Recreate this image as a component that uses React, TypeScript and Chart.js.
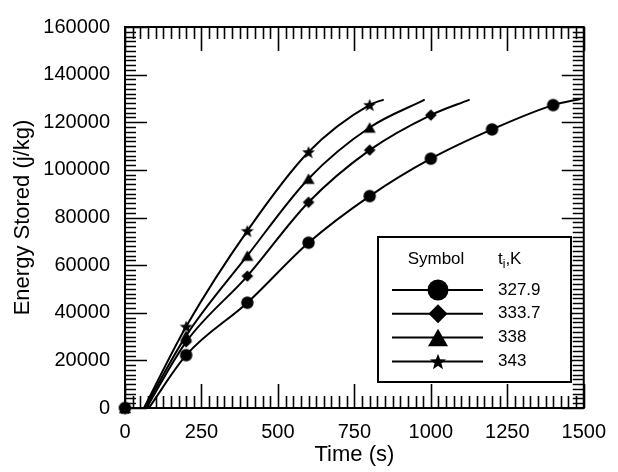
import React, { useEffect, useRef } from 'react';
import { Chart, registerables } from 'chart.js';

Chart.register(...registerables);

// ---- axis ticks ----
const xTicks = [0, 250, 500, 750, 1000, 1250, 1500];
const yTicks = [0, 20000, 40000, 60000, 80000, 100000, 120000, 140000, 160000];
const minorDivisions = 10;

// ---- data ----
const legendLabels = ['327.9', '333.7', '338', '343'];
const markerStyles = ['circle', 'diamond', 'triangle', 'star'];
const markerTimes = [0, 200, 400, 600, 800, 1000, 1200, 1400];
const stored327 = [0, 22200, 44200, 69400, 89000, 104700, 117000, 127200];
const stored333 = [0, 27800, 55400, 86400, 108300, 123000];
const stored338 = [0, 30400, 64000, 96300, 117800];
const stored343 = [0, 34200, 74400, 107500, 127300];
const curveStartTimes = [78, 70, 65, 62];
const curveEndTimes = [1490, 1127, 980, 846];
const curveEndValues = [129800, 129500, 129500, 129500];

const seriesValues = [stored327, stored333, stored338, stored343];

const FONT = '"Liberation Sans", Arial, Helvetica, sans-serif';

function shapePath(ctx: CanvasRenderingContext2D, style: string, cx: number, cy: number, s: number) {
  ctx.beginPath();
  if (style === 'circle') {
    ctx.arc(cx, cy, s, 0, Math.PI * 2);
  } else if (style === 'diamond') {
    ctx.moveTo(cx, cy - s);
    ctx.lineTo(cx + s, cy);
    ctx.lineTo(cx, cy + s);
    ctx.lineTo(cx - s, cy);
  } else if (style === 'triangle') {
    const h = s * 1.75;
    ctx.moveTo(cx, cy - h / 2);
    ctx.lineTo(cx + s, cy + h / 2);
    ctx.lineTo(cx - s, cy + h / 2);
  } else {
    const inner = s * 0.42;
    for (let i = 0; i < 10; i++) {
      const r = i % 2 === 0 ? s : inner;
      const ang = -Math.PI / 2 + (i * Math.PI) / 5;
      const px = cx + r * Math.cos(ang);
      const py = cy + r * Math.sin(ang) + s * 0.1;
      if (i === 0) ctx.moveTo(px, py);
      else ctx.lineTo(px, py);
    }
  }
  ctx.closePath();
  ctx.fill();
}

function makeMarker(style: string, s: number): HTMLCanvasElement {
  const c = document.createElement('canvas');
  const size = Math.ceil(2 * s + 2);
  c.width = size;
  c.height = size;
  const ctx = c.getContext('2d')!;
  ctx.fillStyle = '#000';
  shapePath(ctx, style, size / 2, size / 2, s);
  return c;
}

const dataMarkerSizes = [6.2, 5.8, 6, 6.8];
const legendMarkerSizes = [10.5, 9.5, 10, 8.5];

const frameTicksPlugin = {
  id: 'frameTicks',
  beforeDatasetsDraw(chart: any) {
    const { ctx, chartArea: a, scales } = chart;
    const xs = scales.x;
    const ys = scales.y;
    ctx.save();
    ctx.strokeStyle = '#000';
    ctx.lineWidth = 1.6;
    ctx.beginPath();
    for (let i = 0; i < xTicks.length; i++) {
      const v = xTicks[i];
      const px = Math.round(xs.getPixelForValue(v)) + 0.5;
      ctx.moveTo(px, a.bottom);
      ctx.lineTo(px, a.bottom - 24);
      ctx.moveTo(px, a.top);
      ctx.lineTo(px, a.top + 24);
      if (i < xTicks.length - 1) {
        const step = (xTicks[i + 1] - v) / minorDivisions;
        for (let k = 1; k < minorDivisions; k++) {
          const mp = Math.round(xs.getPixelForValue(v + k * step)) + 0.5;
          ctx.moveTo(mp, a.bottom);
          ctx.lineTo(mp, a.bottom - 12);
          ctx.moveTo(mp, a.top);
          ctx.lineTo(mp, a.top + 12);
        }
      }
    }
    for (let i = 0; i < yTicks.length; i++) {
      const v = yTicks[i];
      const py = Math.round(ys.getPixelForValue(v)) + 0.5;
      ctx.moveTo(a.left, py);
      ctx.lineTo(a.left + 22, py);
      ctx.moveTo(a.right, py);
      ctx.lineTo(a.right - 22, py);
      if (i < yTicks.length - 1) {
        const step = (yTicks[i + 1] - v) / minorDivisions;
        for (let k = 1; k < minorDivisions; k++) {
          const mp = Math.round(ys.getPixelForValue(v + k * step)) + 0.5;
          ctx.moveTo(a.left, mp);
          ctx.lineTo(a.left + 11, mp);
          ctx.moveTo(a.right, mp);
          ctx.lineTo(a.right - 11, mp);
        }
      }
    }
    ctx.stroke();
    ctx.lineWidth = 2;
    ctx.strokeRect(a.left, a.top, a.right - a.left, a.bottom - a.top);
    ctx.restore();
  },
};

const legendPlugin = {
  id: 'symbolLegend',
  afterDatasetsDraw(chart: any) {
    const { ctx } = chart;
    const left = 378, top = 237, right = 571, bottom = 382;
    ctx.save();
    ctx.fillStyle = '#fff';
    ctx.fillRect(left, top, right - left, bottom - top);
    ctx.strokeStyle = '#000';
    ctx.lineWidth = 2;
    ctx.strokeRect(left, top, right - left, bottom - top);

    ctx.fillStyle = '#000';
    ctx.textBaseline = 'middle';
    ctx.font = `17px ${FONT}`;
    ctx.textAlign = 'center';
    ctx.fillText('Symbol', 436, 259);
    ctx.textAlign = 'left';
    let tx = 498;
    ctx.fillText('t', tx, 259);
    tx += ctx.measureText('t').width;
    ctx.font = `12px ${FONT}`;
    ctx.fillText('i', tx, 265);
    tx += ctx.measureText('i').width;
    ctx.font = `17px ${FONT}`;
    ctx.fillText(',K', tx, 259);

    for (let i = 0; i < legendLabels.length; i++) {
      const ry = 290 + i * 23.8;
      ctx.beginPath();
      ctx.lineWidth = 2;
      ctx.moveTo(392, ry);
      ctx.lineTo(483, ry);
      ctx.stroke();
      shapePath(ctx, markerStyles[i], 438, ry, legendMarkerSizes[i]);
      ctx.font = `17px ${FONT}`;
      ctx.fillText(legendLabels[i], 498, ry);
    }
    ctx.restore();
  },
};

export default function App() {
  const canvasRef = useRef<HTMLCanvasElement | null>(null);

  useEffect(() => {
    if (!canvasRef.current) return;
    Chart.defaults.color = '#000';

    const datasets: any[] = [];
    seriesValues.forEach((vals, i) => {
      const pts = vals.map((v, j) => ({ x: markerTimes[j], y: v }));
      const linePts = [
        { x: curveStartTimes[i], y: 0 },
        ...pts.slice(1),
        { x: curveEndTimes[i], y: curveEndValues[i] },
      ];
      datasets.push({
        label: legendLabels[i] + ' curve',
        data: linePts,
        borderColor: '#000',
        borderWidth: 2,
        pointRadius: 0,
        fill: false,
        cubicInterpolationMode: 'monotone',
        clip: false,
      });
      datasets.push({
        label: legendLabels[i],
        data: pts,
        showLine: false,
        pointStyle: makeMarker(markerStyles[i], dataMarkerSizes[i]),
        pointRadius: dataMarkerSizes[i],
        backgroundColor: '#000',
        borderColor: '#000',
        clip: false,
      });
    });

    const chart = new Chart(canvasRef.current, {
      type: 'line',
      data: { datasets },
      options: {
        animation: false,
        responsive: false,
        maintainAspectRatio: false,
        events: [],
        layout: { padding: { top: 15, right: 34, left: 0, bottom: 0 } },
        plugins: { legend: { display: false }, tooltip: { enabled: false } },
        scales: {
          x: {
            type: 'linear',
            min: 0,
            max: 1500,
            afterFit: (s: any) => { s.height = 64; },
            afterBuildTicks: (s: any) => { s.ticks = xTicks.map((v) => ({ value: v })); },
            grid: { display: false, drawTicks: false },
            border: { display: false },
            ticks: { padding: 12, color: '#000', font: { family: FONT, size: 20 }, maxRotation: 0, callback: (v: any) => String(v) },
            title: { display: true, text: 'Time (s)', color: '#000', font: { family: FONT, size: 22 }, padding: { top: 0, bottom: 4 } },
          },
          y: {
            type: 'linear',
            min: 0,
            max: 160000,
            afterFit: (s: any) => { s.width = 125; },
            afterBuildTicks: (s: any) => { s.ticks = yTicks.map((v) => ({ value: v })); },
            grid: { display: false, drawTicks: false },
            border: { display: false },
            ticks: { padding: 15, color: '#000', font: { family: FONT, size: 20 }, callback: (v: any) => String(v) },
            title: { display: true, text: 'Energy Stored (j/kg)', color: '#000', font: { family: FONT, size: 22 }, padding: { top: 10, bottom: 0 } },
          },
        },
      },
      plugins: [frameTicksPlugin, legendPlugin],
    });
    return () => chart.destroy();
  }, []);

  return (
    <div style={{ position: 'fixed', left: 0, top: 0, width: 618, height: 472, background: '#fff' }}>
      <canvas ref={canvasRef} width={618} height={472} style={{ width: 618, height: 472, display: 'block' }} />
    </div>
  );
}
